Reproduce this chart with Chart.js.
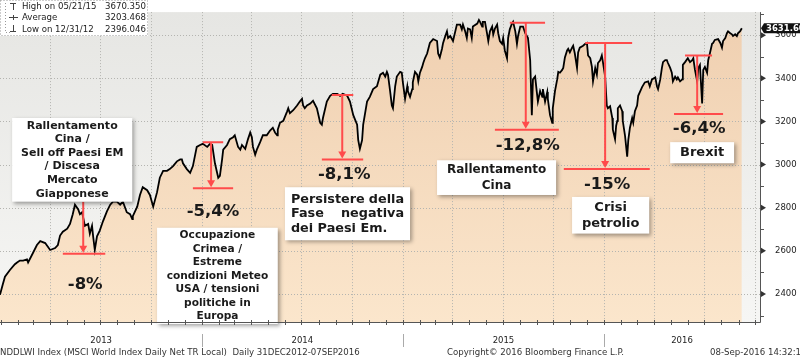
<!DOCTYPE html>
<html>
<head>
<meta charset="utf-8">
<script src="https://cdn.jsdelivr.net/npm/chart.js@4.4.1/dist/chart.umd.min.js"></script>
<style>
  html, body { margin: 0; padding: 0; background: #fff; }
</style>
</head>
<body>
<canvas id="msciChart" width="800" height="360"></canvas>
<script>
// days counted from 31 Dec 2012
const days = [
    0, 5, 9, 18, 27, 31, 36, 42, 49, 51, 60, 67, 73, 82, 91, 100, 105, 109, 114, 122,
    127, 132, 136, 142, 145, 149, 154, 160, 163, 167, 169, 172, 176, 181, 187, 194, 200, 205, 212, 218,
    223, 230, 236, 240, 241, 249, 254, 259, 267, 272, 278, 285, 290, 296, 303, 308, 314, 321, 327, 330,
    332, 339, 345,
    350, 357, 363, 368, 376, 381, 385, 390, 396, 399, 403, 405, 412, 417, 423, 426, 432, 436, 439, 445,
    450, 454, 457, 459, 463, 466, 472, 477, 484, 490, 495, 499, 503, 504, 508, 514, 521, 523, 526, 532,
    539, 544, 548, 550, 553, 557, 563, 568, 575, 581, 584, 586, 593, 599, 604, 612, 617, 622, 630, 635,
    641, 648, 650, 653, 657, 659, 666,
    671, 677, 684, 690, 695, 699, 702, 704, 708, 711, 713, 717, 720, 726, 729, 731, 735, 739, 740, 744,
    748, 749, 753, 757, 759, 762, 766, 768, 771, 775, 780, 786, 793, 795, 798, 802, 804, 808, 811, 813,
    817, 822, 829, 835, 838, 840, 844, 847, 849, 853, 856, 858, 866, 869, 871, 875, 876, 880, 884, 886,
    889, 893, 895, 898, 902, 904, 907, 911, 913, 916, 920, 922, 925, 929, 931, 935, 938, 940, 944, 949,
    953, 956, 958, 962, 965, 967, 971, 974, 976, 980, 984, 985, 989, 993, 994, 998, 1002, 1003, 1007,
    1011, 1013, 1016, 1020, 1022, 1025, 1029, 1031, 1034, 1038, 1040, 1043, 1047, 1049, 1052, 1058, 1062, 1065, 1067, 1071,
    1074, 1076, 1080, 1083, 1085, 1089, 1092, 1094, 1098, 1101, 1103, 1107, 1111, 1112, 1116, 1118, 1120, 1121, 1125, 1129,
    1130, 1134, 1138, 1140, 1143, 1147, 1149, 1152, 1156, 1158, 1165, 1170, 1176, 1179, 1183, 1189, 1192, 1194, 1198, 1201,
    1203, 1207, 1210, 1212, 1216, 1219, 1221, 1225, 1228, 1230, 1234, 1238, 1239, 1243, 1248, 1252, 1256, 1258, 1261, 1265,
    1267, 1270, 1274, 1276, 1279, 1283, 1285, 1288, 1292, 1294, 1297, 1303, 1307, 1310, 1312, 1316, 1319, 1321, 1325, 1328,
    1330, 1334, 1337, 1339, 1343, 1346
];
const closes = [
    2396, 2444, 2480, 2511, 2538, 2546, 2555, 2555, 2560, 2546, 2591, 2627, 2645, 2636, 2604, 2613, 2627, 2671, 2689, 2703,
    2725, 2770, 2814, 2792, 2770, 2779, 2716, 2725, 2680, 2716, 2667, 2604, 2667, 2694, 2738, 2783, 2814, 2828, 2828, 2814,
    2828, 2779, 2770, 2747, 2761, 2805, 2859, 2895, 2881, 2859, 2805, 2872, 2939, 2971, 2971, 2979, 2993, 3015, 3024, 3024,
    3006, 2979, 2962,
    2993, 3082, 3091, 3096, 3082, 3096, 3091, 3006, 2939, 2948, 3024, 3069, 3091, 3118, 3127, 3136, 3082, 3069, 3091, 3073,
    3118, 3149, 3127, 3082, 3046, 3069, 3104, 3136, 3136, 3158, 3171, 3149, 3136, 3162, 3194, 3203, 3247, 3261, 3238, 3252,
    3274, 3292, 3305, 3274, 3261, 3274, 3283, 3296, 3261, 3194, 3185, 3216, 3292, 3319, 3328, 3328, 3319, 3328, 3319, 3292,
    3229, 3185, 3113, 3073, 3113, 3185, 3292,
    3314, 3350, 3363, 3417, 3426, 3408, 3430, 3417, 3337, 3274, 3261, 3363, 3408, 3430, 3426, 3381, 3305, 3363, 3341, 3314,
    3350, 3381, 3430, 3417, 3386, 3426, 3453, 3471, 3493, 3515, 3564, 3582, 3573, 3515, 3497, 3537, 3564, 3596, 3618, 3587,
    3596, 3573, 3649, 3649, 3627, 3649, 3618, 3587, 3631, 3627, 3587, 3640, 3654, 3671, 3662, 3640, 3662, 3662, 3604, 3573,
    3618, 3640, 3604, 3631, 3649, 3609, 3573, 3560, 3587, 3529, 3493, 3587, 3627, 3654, 3662, 3618, 3560, 3596, 3640, 3640,
    3609, 3596, 3587, 3484, 3229, 3395, 3408, 3337, 3292, 3341, 3314, 3350, 3292, 3337, 3305, 3229, 3194, 3261, 3341,
    3395, 3430, 3426, 3439, 3448, 3497, 3529, 3537, 3520, 3542, 3551, 3515, 3448, 3520, 3542, 3551, 3560, 3564, 3506, 3493,
    3453, 3386, 3448, 3417, 3471, 3484, 3506, 3475, 3408, 3274, 3261, 3270, 3216, 3162, 3118, 3180, 3203, 3261, 3274, 3247,
    3203, 3136, 3037, 3113, 3171, 3216, 3194, 3247, 3274, 3319, 3359, 3381, 3386, 3363, 3395, 3404, 3363, 3350, 3395, 3448,
    3475, 3484, 3484, 3471, 3448, 3426, 3386, 3408, 3395, 3404, 3386, 3395, 3462, 3475, 3493, 3475, 3484, 3493, 3439, 3386,
    3448, 3462, 3283, 3439, 3453, 3426, 3484, 3515, 3560, 3564, 3578, 3582, 3564, 3542, 3573, 3587, 3609, 3618, 3609, 3604,
    3596, 3604, 3596, 3609, 3618, 3632
];

const yearLabels = ['2013', '2014', '2015', '2016'];
const yTickValues = [2400, 2600, 2800, 3000, 3200, 3400, 3600];
const statLabels = ['High on 05/21/15', 'Average', 'Low on 12/31/12'];
const statValues = ['3670.350', '3203.468', '2396.046'];
const lastValue = '3631.60';

// drawdowns: label, day of the arrow, peak level, trough level
const dropLabels = ['-8%', '-5,4%', '-8,1%', '-12,8%', '-15%', '-6,4%'];
const dropDays = [151, 383, 621, 954, 1098, 1265];
const dropPeaks = [2828, 3104, 3323, 3658, 3564, 3506];
const dropTroughs = [2587, 2890, 3024, 3162, 2979, 3234];

const noteTexts = [
    ['Rallentamento', 'Cina /', 'Sell off Paesi EM', '/ Discesa', 'Mercato', 'Giapponese'],
    ['Occupazione', 'Crimea /', 'Estreme', 'condizioni Meteo', 'USA / tensioni', 'politiche in', 'Europa'],
    ['Persistere della', 'Fase negativa', 'dei Paesi Em.'],
    ['Rallentamento', 'Cina'],
    ['Crisi', 'petrolio'],
    ['Brexit']
];

// layout of the annotations (in axis units)
const dropLayout = [
    { peak: null, trough: [114, 191], label: 2444 },
    { peak: [368, 405], trough: [350, 423], label: 2783 },
    { peak: [602, 641], trough: [584, 659], label: 2953 },
    { peak: [925, 989], trough: [898, 1014], label: 3087 },
    { peak: [1062, 1147], trough: [1023, 1179], label: 2908 },
    { peak: [1243, 1292], trough: [1223, 1312], label: 3167 }
];
const noteLayout = [
    { x: [22, 240], y: [3216, 2828], size: 11, lh: 13.6 },
    { x: [285, 504], y: [2707, 2261], size: 10.6, lh: 13.5 },
    { x: [517, 744], y: [2895, 2649], size: 12.8, lh: 14.5, justify: true },
    { x: [793, 1009], y: [3020, 2859], size: 12, lh: 16 },
    { x: [1038, 1178], y: [2850, 2680], size: 13, lh: 16 },
    { x: [1216, 1332], y: [3104, 3006], size: 13, lh: 16 }
];

const FONT = "'DejaVu Sans', Verdana, sans-serif";
const RED = '#ff4b4b';
const START = Date.UTC(2012, 11, 31);

function dayOf(y, m) {
    return (Date.UTC(y, m, 1) - START) / 86400000;
}

function drawJustified(ctx, text, left, width, y) {
    const words = text.split(' ');
    const total = words.reduce((s, w) => s + ctx.measureText(w).width, 0);
    const gap = Math.max(3, (width - total) / (words.length - 1));
    let x = left;
    words.forEach(w => {
        ctx.fillText(w, x, y);
        x += ctx.measureText(w).width + gap;
    });
}

const bloombergPlugin = {
    id: 'bloomberg',
    beforeDraw(chart) {
        const { ctx, chartArea: a } = chart;
        const g = ctx.createLinearGradient(0, a.top, 0, a.bottom);
        g.addColorStop(0, '#e6e6e3');
        g.addColorStop(1, '#f6f6f4');
        ctx.save();
        ctx.fillStyle = g;
        ctx.fillRect(a.left, a.top, a.right - a.left, a.bottom - a.top);
        ctx.restore();
    },
    beforeDatasetsDraw(chart) {
        const { ctx, chartArea: a, scales: { x, y } } = chart;
        ctx.save();
        ctx.strokeStyle = '#b4b4b0';
        ctx.lineWidth = 1;
        ctx.setLineDash([1, 2]);
        yTickValues.forEach(v => {
            const py = Math.round(y.getPixelForValue(v)) + 0.5;
            ctx.beginPath();
            ctx.moveTo(a.left, py);
            ctx.lineTo(a.right, py);
            ctx.stroke();
        });
        for (let yr = 2013; yr <= 2016; yr++) {
            [0, 3, 6, 9].forEach(m => {
                const px = Math.round(x.getPixelForValue(dayOf(yr, m))) + 0.5;
                if (px < a.left + 2 || px > a.right) return;
                ctx.beginPath();
                ctx.moveTo(px, a.top);
                ctx.lineTo(px, a.bottom);
                ctx.stroke();
            });
        }
        ctx.restore();
    },
    afterDraw(chart) {
        const { ctx, chartArea: a, scales: { x, y } } = chart;
        ctx.save();

        // drawdown arrows
        ctx.strokeStyle = RED;
        ctx.fillStyle = RED;
        ctx.lineWidth = 2;
        dropLabels.forEach((label, i) => {
            const L = dropLayout[i];
            const ax = x.getPixelForValue(dropDays[i]);
            const top = y.getPixelForValue(dropPeaks[i]);
            const bot = y.getPixelForValue(dropTroughs[i]);
            ctx.beginPath();
            if (L.peak) {
                ctx.moveTo(x.getPixelForValue(L.peak[0]), top);
                ctx.lineTo(x.getPixelForValue(L.peak[1]), top);
            }
            ctx.moveTo(x.getPixelForValue(L.trough[0]), bot);
            ctx.lineTo(x.getPixelForValue(L.trough[1]), bot);
            ctx.moveTo(ax, top);
            ctx.lineTo(ax, bot - 6);
            ctx.stroke();
            ctx.beginPath();
            ctx.moveTo(ax - 4, bot - 8);
            ctx.lineTo(ax + 4, bot - 8);
            ctx.lineTo(ax, bot - 1);
            ctx.closePath();
            ctx.fill();

            ctx.save();
            ctx.fillStyle = '#1a1a1a';
            ctx.font = 'bold 16.5px ' + FONT;
            ctx.textAlign = 'center';
            ctx.textBaseline = 'middle';
            ctx.fillText(label, ax + 2, y.getPixelForValue(L.label));
            ctx.restore();
        });

        // text boxes
        noteTexts.forEach((lines, i) => {
            const L = noteLayout[i];
            const l = x.getPixelForValue(L.x[0]);
            const r = x.getPixelForValue(L.x[1]);
            const t = y.getPixelForValue(L.y[0]);
            const b = y.getPixelForValue(L.y[1]);
            ctx.save();
            ctx.shadowColor = 'rgba(0,0,0,0.35)';
            ctx.shadowBlur = 4;
            ctx.shadowOffsetX = 2;
            ctx.shadowOffsetY = 2;
            ctx.fillStyle = '#ffffff';
            ctx.fillRect(l, t, r - l, b - t);
            ctx.restore();

            ctx.save();
            ctx.fillStyle = '#1a1a1a';
            ctx.font = 'bold ' + L.size + 'px ' + FONT;
            ctx.textBaseline = 'middle';
            const y0 = (t + b) / 2 - (lines.length - 1) * L.lh / 2;
            lines.forEach((line, k) => {
                const ly = y0 + k * L.lh;
                if (L.justify && k < lines.length - 1) {
                    ctx.textAlign = 'left';
                    drawJustified(ctx, line, l + 6, r - l - 12, ly);
                } else if (L.justify) {
                    ctx.textAlign = 'left';
                    ctx.fillText(line, l + 6, ly);
                } else {
                    ctx.textAlign = 'center';
                    ctx.fillText(line, (l + r) / 2, ly);
                }
            });
            ctx.restore();
        });

        // axes
        ctx.strokeStyle = '#555';
        ctx.lineWidth = 1;
        ctx.beginPath();
        ctx.moveTo(a.left, a.bottom + 0.5);
        ctx.lineTo(a.right + 0.5, a.bottom + 0.5);
        ctx.moveTo(a.right + 0.5, a.top);
        ctx.lineTo(a.right + 0.5, a.bottom + 0.5);
        ctx.stroke();

        ctx.beginPath();
        for (let v = 2300; v <= 3700; v += 100) {
            if (v % 200 === 0) continue;
            const py = Math.round(y.getPixelForValue(v)) + 0.5;
            ctx.moveTo(a.right, py);
            ctx.lineTo(a.right + 4, py);
        }
        for (let yr = 2013; yr <= 2016; yr++) {
            for (let m = 0; m < 12; m++) {
                const px = Math.round(x.getPixelForValue(dayOf(yr, m))) + 0.5;
                if (px < a.left || px > a.right) continue;
                ctx.moveTo(px, a.bottom - 2);
                ctx.lineTo(px, a.bottom + 3);
            }
        }
        ctx.stroke();

        ctx.fillStyle = '#333';
        yTickValues.forEach(v => {
            const py = y.getPixelForValue(v);
            ctx.beginPath();
            ctx.moveTo(a.right + 1, py - 3);
            ctx.lineTo(a.right + 6, py);
            ctx.lineTo(a.right + 1, py + 3);
            ctx.closePath();
            ctx.fill();
        });

        // years
        ctx.strokeStyle = '#aaa';
        ctx.beginPath();
        yearLabels.forEach((yl, i) => {
            if (i === 0) return;
            const px = Math.round(x.getPixelForValue(dayOf(2013 + i, 0))) + 0.5;
            ctx.moveTo(px, a.bottom + 12);
            ctx.lineTo(px, a.bottom + 25);
        });
        ctx.stroke();

        ctx.fillStyle = '#222';
        ctx.font = '8.5px ' + FONT;
        ctx.textAlign = 'center';
        ctx.textBaseline = 'middle';
        yearLabels.forEach((yl, i) => {
            const p0 = Math.max(a.left, x.getPixelForValue(dayOf(2013 + i, 0)));
            const p1 = Math.min(a.right, x.getPixelForValue(dayOf(2014 + i, 0)));
            ctx.fillText(yl, (p0 + p1) / 2, a.bottom + 19);
        });

        // footer
        ctx.font = '8.6px ' + FONT;
        ctx.fillStyle = '#333';
        ctx.textAlign = 'left';
        ctx.fillText('NDDLWI Index (MSCI World Index Daily Net TR Local)  Daily 31DEC2012-07SEP2016', 0, 353);
        ctx.fillText('Copyright\u00a9 2016 Bloomberg Finance L.P.', 447, 353);
        ctx.fillText('08-Sep-2016 14:32:1', 710, 353);

        // last value tag
        const ly = y.getPixelForValue(closes[closes.length - 1]);
        ctx.fillStyle = '#111';
        ctx.beginPath();
        ctx.moveTo(a.right + 1, ly);
        ctx.lineTo(a.right + 4, ly - 5);
        ctx.lineTo(800, ly - 5);
        ctx.lineTo(800, ly + 5);
        ctx.lineTo(a.right + 4, ly + 5);
        ctx.closePath();
        ctx.fill();
        ctx.fillStyle = '#fff';
        ctx.font = 'bold 8.5px ' + FONT;
        ctx.textAlign = 'left';
        ctx.fillText(lastValue, a.right + 6, ly + 0.5);

        // stats box
        ctx.fillStyle = '#fff';
        ctx.fillRect(0, 0, 148, 36);
        ctx.strokeStyle = '#999';
        ctx.setLineDash([1, 2]);
        ctx.strokeRect(0.5, 0.5, 147, 35);
        ctx.beginPath();
        ctx.moveTo(5.5, 3);
        ctx.lineTo(5.5, 32.5);
        ctx.lineTo(10, 32.5);
        ctx.stroke();
        ctx.setLineDash([]);
        ctx.strokeStyle = '#444';
        ctx.beginPath();
        ctx.moveTo(10, 3.5); ctx.lineTo(16, 3.5);
        ctx.moveTo(13.5, 3.5); ctx.lineTo(13.5, 10);
        ctx.moveTo(9, 17.5); ctx.lineTo(18, 17.5);
        ctx.moveTo(13.5, 15); ctx.lineTo(13.5, 20);
        ctx.moveTo(13.5, 25); ctx.lineTo(13.5, 31.5);
        ctx.moveTo(10, 31.5); ctx.lineTo(16, 31.5);
        ctx.stroke();
        ctx.fillStyle = '#222';
        ctx.font = '8.6px ' + FONT;
        statLabels.forEach((s, i) => {
            const ty = 6.5 + i * 11.5;
            ctx.textAlign = 'left';
            ctx.fillText(s, 22, ty);
            ctx.textAlign = 'right';
            ctx.fillText(statValues[i], 146, ty);
        });

        ctx.restore();
    }
};

const ctx = document.getElementById('msciChart').getContext('2d');
const msciChart = new Chart(ctx, {
    type: 'line',
    data: {
        datasets: [{
            label: 'MSCI World',
            data: days.map((d, i) => ({ x: d, y: closes[i] })),
            borderColor: '#000',
            borderWidth: 1.8,
            pointRadius: 0,
            tension: 0,
            fill: 'start',
            backgroundColor: (context) => {
                const area = context.chart.chartArea;
                if (!area) return '#f6dcc0';
                const g = context.chart.ctx.createLinearGradient(0, area.top, 0, area.bottom);
                g.addColorStop(0, '#efcfb0');
                g.addColorStop(1, '#fbe6cc');
                return g;
            }
        }]
    },
    options: {
        responsive: false,
        animation: false,
        devicePixelRatio: 1,
        layout: { padding: 0 },
        plugins: {
            legend: { display: false },
            tooltip: { enabled: false },
            filler: { drawTime: 'beforeDatasetsDraw' }
        },
        scales: {
            x: {
                type: 'linear',
                min: 0,
                max: 1379,
                grid: { display: false },
                border: { display: false },
                ticks: { display: false },
                afterFit: (scale) => { scale.height = 38; }
            },
            y: {
                position: 'right',
                min: 2270,
                max: 3707,
                grid: { display: false },
                border: { display: false },
                afterBuildTicks: (scale) => {
                    scale.ticks = yTickValues.map(v => ({ value: v }));
                },
                ticks: {
                    padding: 7,
                    color: '#222',
                    font: { family: 'DejaVu Sans', size: 8.5 },
                    callback: (v) => v
                },
                afterFit: (scale) => { scale.width = 40; }
            }
        }
    },
    plugins: [bloombergPlugin]
});
</script>
</body>
</html>
